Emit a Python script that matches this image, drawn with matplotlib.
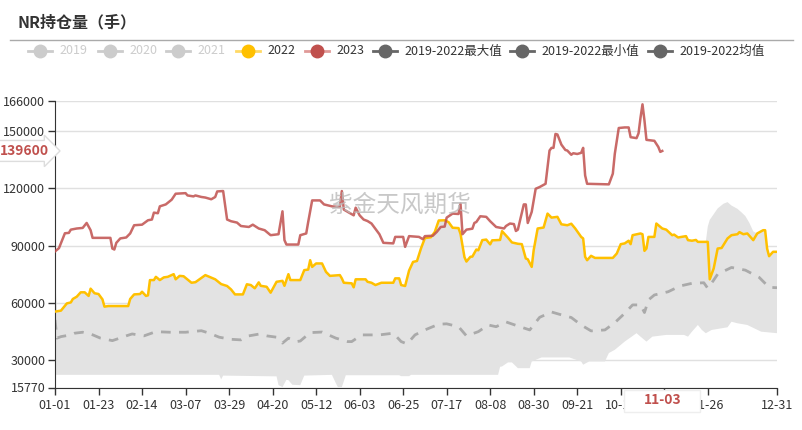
import numpy as np
import pandas as pd
import matplotlib
matplotlib.use("Agg")
import matplotlib.pyplot as plt
from matplotlib.lines import Line2D
from matplotlib.patches import Rectangle

plt.rcParams["font.family"] = ["Noto Sans CJK SC", "DejaVu Sans"]

# Data (day index within a leap year, 0 = 01-01, 365 = 12-31)
days_2023 = [0, 2, 5, 7, 8, 11, 14, 16, 18, 19, 28, 29, 30, 31, 33, 36, 38, 40, 44, 47, 49, 50, 52, 53,
             56, 59, 61, 66, 67, 70, 71, 74, 76, 79, 81, 82, 85, 87, 89, 92, 94, 98, 100, 103, 106, 109,
             113, 115, 116, 117, 123, 124, 127, 128, 130, 134, 136, 140, 144, 145, 146, 149, 151, 152,
             154, 156, 158, 160, 164, 166, 171, 172, 176, 177, 179, 184, 186, 187, 191, 193, 195, 197,
             198, 201, 204, 205, 206, 208, 211, 212, 213, 215, 218, 220, 223, 227, 228, 230, 232, 233,
             234, 237, 238, 239, 241, 243, 245, 248, 250, 251, 252, 253, 254, 256, 258, 259, 261, 262,
             264, 266, 267, 268, 269, 280, 282, 283, 285, 288, 290, 291, 294, 295, 296, 297, 298, 299,
             303, 305, 306, 307]
vals_2023 = [87000, 88700, 96500, 96700, 98400, 99000, 99300, 101900, 98100, 94100, 94100, 88500, 88000,
             91500, 93800, 94300, 96400, 100700, 101000, 103300, 103700, 107300, 107000, 110600, 111600,
             114100, 117200, 117500, 116300, 115800, 116300, 115500, 115200, 114300, 115500, 118400,
             118600, 103700, 102800, 102100, 100300, 99800, 101000, 99000, 98100, 95500, 96000, 108000,
             92900, 90600, 90600, 95500, 96400, 102400, 113700, 113700, 111600, 110600, 110200, 118600,
             108900, 107100, 105900, 109900, 105900, 103700, 102900, 101600, 96000, 91500, 91200, 94600,
             94600, 89400, 95000, 94600, 93400, 95000, 95200, 97200, 99800, 100000, 104700, 106800,
             106600, 112000, 96000, 98400, 98900, 101900, 102400, 105400, 105100, 102800, 99800, 99000,
             100300, 101600, 101300, 97700, 98400, 111600, 111600, 101900, 107700, 119800, 120700,
             122400, 139800, 141200, 141200, 148500, 148200, 142900, 140100, 139800, 137600, 138400,
             138000, 138600, 141200, 126800, 122400, 122100, 127700, 138100, 151600, 151900, 151900,
             146800, 146300, 148800, 157000, 164000, 155500, 145400, 144900, 141700, 139100, 139600]

days_2022 = [0, 3, 6, 8, 9, 11, 13, 15, 17, 18, 20, 22, 24, 25, 27, 37, 38, 40, 43, 44, 46, 47, 48, 50,
             51, 53, 55, 57, 60, 61, 63, 65, 69, 71, 76, 78, 81, 84, 87, 89, 91, 95, 97, 99, 101, 103,
             104, 107, 109, 112, 115, 116, 118, 119, 124, 126, 128, 129, 130, 132, 135, 137, 139, 144,
             145, 146, 150, 151, 152, 157, 158, 160, 162, 165, 171, 172, 174, 175, 177, 179, 181, 183,
             185, 187, 190, 192, 194, 197, 199, 201, 204, 205, 207, 208, 210, 211, 213, 214, 216, 218,
             220, 221, 225, 226, 229, 231, 234, 236, 238, 239, 241, 242, 244, 247, 249, 251, 254, 256,
             259, 261, 263, 266, 267, 268, 269, 271, 273, 282, 284, 286, 288, 290, 291, 292, 296, 297,
             298, 299, 300, 303, 304, 307, 309, 312, 313, 315, 319, 320, 322, 324, 325, 330, 331, 333,
             335, 337, 340, 342, 345, 346, 348, 350, 353, 355, 358, 359, 360, 361, 363, 365]
vals_2022 = [55500, 56000, 59800, 60300, 62100, 63300, 65600, 65600, 63700, 67500, 65100, 64700, 61900,
             58100, 58400, 58400, 62100, 64500, 64700, 65900, 63700, 64000, 72000, 72000, 73700, 72000,
             73400, 73700, 75100, 72400, 74200, 74000, 70600, 70900, 74600, 73700, 72400, 69900, 68900,
             67100, 64500, 64500, 69800, 69400, 67700, 70800, 69000, 68500, 65400, 71100, 71600, 69000,
             75100, 72000, 72000, 77200, 77500, 82400, 78900, 80700, 80700, 76300, 74200, 74600, 72900,
             70600, 70300, 68200, 72400, 72400, 71100, 70600, 69400, 70600, 70600, 72900, 72900, 69400,
             68900, 77000, 81500, 82000, 88500, 94000, 94400, 97200, 103200, 103300, 102300, 99400,
             99200, 96200, 84000, 81700, 84200, 84300, 88000, 87600, 92900, 93200, 90700, 92800, 93000,
             97600, 94200, 91700, 91000, 90800, 83300, 82900, 78900, 87700, 99000, 99500, 106800,
             104700, 105100, 101200, 100700, 101500, 99000, 94600, 93800, 84200, 82400, 84700, 83600,
             83600, 85900, 90800, 91200, 92600, 90800, 95500, 96400, 96000, 87300, 88500, 94600, 94600,
             101600, 99000, 98400, 95500, 95800, 94300, 95000, 92900, 92600, 93000, 92000, 92000, 72400,
             78100, 88500, 88800, 93800, 95500, 96000, 97100, 96000, 96400, 92900, 96400, 98100, 98100,
             88500, 84500, 86800, 86800]

# 2019-2022 max: same as 2022 except where another year was higher
max_extra_days = [0, 1, 329, 330, 331, 333, 335, 338, 340, 342, 345, 347, 349, 351, 353]
max_extra_vals = [75000, 55600, 92000, 100000, 103500, 106500, 109500, 112000, 112800, 111000, 109300,
                  107500, 105500, 102000, 97500]

min_days = [0, 83, 84, 85, 112, 113, 115, 117, 118, 120, 124, 126, 140, 142, 143, 145, 146, 147, 174,
            175, 179, 180, 224, 225, 226, 229, 231, 234, 240, 241, 246, 260, 266, 267, 270, 278, 280,
            283, 288, 294, 296, 299, 302, 309, 318, 320, 322, 325, 327, 329, 332, 340, 342, 345, 350,
            357, 365]
min_vals = [22400, 22400, 20000, 22000, 21600, 17000, 16000, 19800, 19600, 17200, 17000, 22000, 22400,
            18000, 16000, 16000, 19000, 22200, 22200, 21700, 21700, 22400, 22400, 26600, 26800, 28900,
            28900, 25900, 25900, 29400, 31500, 31500, 29400, 27700, 29400, 29400, 33800, 35500, 39800,
            44200, 42400, 39800, 42400, 43300, 43300, 42400, 45000, 48500, 45900, 44200, 45900, 47300,
            50200, 49400, 48500, 45000, 44200]

mean_days = [0, 1, 3, 8, 10, 14, 18, 23, 29, 31, 36, 39, 45, 51, 58, 66, 74, 78, 83, 89, 94, 98, 103,
             107, 112, 115, 118, 122, 124, 129, 135, 142, 148, 150, 155, 164, 171, 175, 178, 182, 187,
             194, 198, 204, 208, 214, 219, 223, 228, 235, 240, 245, 251, 258, 261, 266, 271, 278, 283,
             288, 292, 296, 298, 300, 303, 310, 316, 322, 328, 330, 333, 335, 342, 349, 356, 361, 365]
mean_vals = [51100, 41600, 42400, 43300, 44200, 44700, 43800, 41600, 40300, 41000, 42800, 43800, 42800,
             45000, 44700, 44700, 45500, 44200, 42100, 41000, 40700, 42800, 43700, 42800, 42100, 39000,
             41600, 39800, 40100, 44500, 44800, 41600, 39800, 39800, 43300, 43300, 44200, 39800, 38600,
             43300, 45900, 48900, 49100, 47600, 42800, 45000, 48500, 47600, 50100, 47600, 45900, 52500,
             55300, 53200, 52400, 48500, 45400, 45900, 49700, 54600, 59000, 59000, 55000, 61600, 64200,
             65900, 68900, 70300, 70600, 67700, 72000, 75100, 78600, 77200, 73400, 68200, 68000]

y_ticks = [15770, 30000, 60000, 90000, 120000, 150000, 166000]
last_day = 307
last_value = 139600

date_labels = pd.date_range("2024-01-01", "2024-12-31").strftime("%m-%d").tolist()
x_ticks = list(range(0, 331, 22)) + [365]

W, H = 803, 430
fig = plt.figure(figsize=(W / 100, H / 100), dpi=100)
ax = fig.add_axes([55 / W, 1 - 387.5 / H, 722 / W, 287 / H])


def fx(x):
    return x / W


def fy(y):
    return 1 - y / H


# band between min and max
max_pts = [(d, v) for d, v in zip(days_2022, vals_2022) if 2 <= d <= 328 or d >= 355]
max_pts = sorted(max_pts + list(zip(max_extra_days, max_extra_vals)))
up_d = np.array([p[0] for p in max_pts])
up_v = np.array([p[1] for p in max_pts])
lo_d = np.array(min_days)
lo_v = np.array(min_vals)
ax.fill(np.r_[up_d, lo_d[::-1]], np.r_[up_v, lo_v[::-1]], color="#e3e3e3", lw=0, zorder=1)

ax.plot(mean_days, mean_vals, color="#aaaaaa", lw=2, ls=(0, (3.5, 3)), zorder=2)
ax.plot(days_2022, vals_2022, color="#ffc000", lw=1.8, zorder=3)
ax.plot(days_2023, vals_2023, color="#c0504d", lw=1.8, alpha=0.85, zorder=4)

ax.set_xlim(0, 365)
ax.set_ylim(15770, 166000)
ax.set_yticks(y_ticks)
ax.set_yticklabels([str(t) for t in y_ticks])
ax.set_xticks(x_ticks)
# the tick hidden under the highlighted date gets no label
ax.set_xticklabels(["" if abs(i - last_day) < 11 else date_labels[i] for i in x_ticks])
ax.tick_params(axis="both", labelsize=9, colors="#333333", length=5, width=1)
ax.tick_params(axis="y", pad=2)
ax.tick_params(axis="x", pad=3)
for s in ["top", "right"]:
    ax.spines[s].set_visible(False)
for s in ["left", "bottom"]:
    ax.spines[s].set_color("#333333")
ax.grid(axis="y", color="#e0e0e0", lw=1, zorder=0)
ax.set_axisbelow(True)

# watermark
ax.text(0.478, 0.636, "紫金天风期货", transform=ax.transAxes, fontsize=17, color="#bbbbbb",
        alpha=0.8, ha="center", va="center", zorder=6)

# title and separator
fig.text(fx(18), fy(22), "NR持仓量（手）", fontsize=11.5, fontweight="bold", color="#333333",
         va="center", ha="left")
fig.add_artist(Line2D([fx(10), fx(793)], [fy(40), fy(40)], color="#aaaaaa", lw=1))

# legend
legend_items = [
    (40, "2019", "#cccccc", "#cccccc", "#cccccc"),
    (110, "2020", "#cccccc", "#cccccc", "#cccccc"),
    (178, "2021", "#cccccc", "#cccccc", "#cccccc"),
    (248, "2022", "#ffd966", "#ffc000", "#333333"),
    (317, "2023", "#e09a98", "#c0504d", "#333333"),
    (385, "2019-2022最大值", "#666666", "#666666", "#333333"),
    (522, "2019-2022最小值", "#666666", "#666666", "#333333"),
    (660, "2019-2022均值", "#666666", "#666666", "#333333"),
]
for cx, label, lc, mc, tc in legend_items:
    fig.add_artist(Line2D([fx(cx - 12), fx(cx + 12)], [fy(51), fy(51)], color=lc, lw=2))
    fig.add_artist(Line2D([fx(cx)], [fy(51)], marker="o", ms=9, color=mc, mec=mc))
    fig.text(fx(cx + 19), fy(51), label, fontsize=9, color=tc, va="center", ha="left")

# last value label on the y axis
y_px = ax.transData.transform((0, last_value))[1]
fig.text(fx(24), y_px / H, str(last_value), fontsize=10, fontweight="bold",
         color="#c0504d", ha="center", va="center",
         bbox=dict(boxstyle="rarrow,pad=0.25", fc="white", ec="#dddddd", lw=1))

# last date label on the x axis
x_px = ax.transData.transform((last_day, 0))[0]
fig.add_artist(Rectangle((fx(x_px - 38), fy(412)), 76 / W, 22 / H, transform=fig.transFigure,
                         fc="white", ec="#eeeeee", lw=1, zorder=5))
fig.text(fx(x_px), fy(400), date_labels[last_day], fontsize=10, fontweight="bold",
         color="#c0504d", ha="center", va="center", zorder=6)

fig.savefig("out.png", dpi=100)
